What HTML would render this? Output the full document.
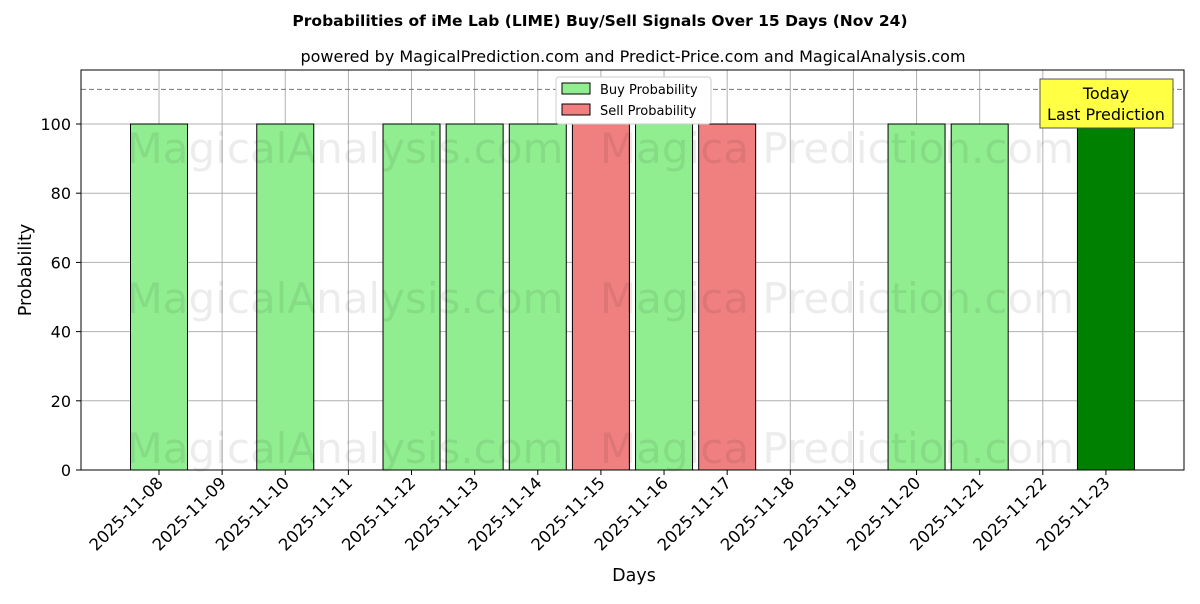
<!DOCTYPE html>
<html><head><meta charset="utf-8"><style>
body{margin:0;background:#fff;font-family:"DejaVu Sans","Liberation Sans",sans-serif}
</style></head><body>
<svg id="chart" width="1200" height="600" xmlns="http://www.w3.org/2000/svg" font-family="DejaVu Sans, Liberation Sans, sans-serif">
<text x="600" y="26" text-anchor="middle" font-size="15.5" font-weight="bold">Probabilities of iMe Lab (LIME) Buy/Sell Signals Over 15 Days (Nov 24)</text>
<text x="633" y="62" text-anchor="middle" font-size="16">powered by MagicalPrediction.com and Predict-Price.com and MagicalAnalysis.com</text>
<g id="grid"></g>
<g id="bars"></g>
<g id="wm" fill="#000" opacity="0.07" font-size="42">
<text x="345" y="163" text-anchor="middle">MagicalAnalysis.com</text><text x="837" y="163" text-anchor="middle">Magica Prediction.com</text>
<text x="345" y="313" text-anchor="middle">MagicalAnalysis.com</text><text x="837" y="313" text-anchor="middle">Magica Prediction.com</text>
<text x="345" y="463" text-anchor="middle">MagicalAnalysis.com</text><text x="837" y="463" text-anchor="middle">Magica Prediction.com</text>
</g>
<line x1="81" x2="1184" y1="89.4" y2="89.4" stroke="#777" stroke-dasharray="5,3"/>
<rect x="81" y="70" width="1103" height="400" fill="none" stroke="#000"/>
<g id="axes"></g>
<text x="634" y="581" text-anchor="middle" font-size="17.5">Days</text>
<text x="31" y="270" text-anchor="middle" font-size="17.5" transform="rotate(-90 31 270)">Probability</text>
<g>
<rect x="556" y="77" width="155" height="47" fill="#fff" stroke="#ccc" rx="3"/>
<rect x="562" y="83" width="28" height="11" fill="#90ee90" stroke="#000"/>
<text x="600" y="94" font-size="13">Buy Probability</text>
<rect x="562" y="104" width="28" height="11" fill="#f08080" stroke="#000"/>
<text x="600" y="115" font-size="13">Sell Probability</text>
</g>
<g>
<rect x="1040" y="79" width="133" height="49" fill="#ffff44" stroke="#555"/>
<text x="1106" y="99" text-anchor="middle" font-size="16">Today</text>
<text x="1106" y="120" text-anchor="middle" font-size="16">Last Prediction</text>
</g>
</svg>
<script>
const categories=["2025-11-08","2025-11-09","2025-11-10","2025-11-11","2025-11-12","2025-11-13","2025-11-14","2025-11-15","2025-11-16","2025-11-17","2025-11-18","2025-11-19","2025-11-20","2025-11-21","2025-11-22","2025-11-23"];
const buyValues=[100,0,100,0,100,100,100,0,100,0,0,0,100,100,0,100];
const sellValues=[0,0,0,0,0,0,0,100,0,100,0,0,0,0,0,0];
const yTicks=[0,20,40,60,80,100];
const NS="http://www.w3.org/2000/svg";
const x=i=>159+i*63.13, y=v=>470-v*3.46, bw=57;
function mk(t,a,p){const e=document.createElementNS(NS,t);for(const k in a)e.setAttribute(k,a[k]);p.appendChild(e);return e;}
const grid=document.getElementById('grid'),bars=document.getElementById('bars'),axes=document.getElementById('axes');
yTicks.forEach(v=>{
 const l=mk('line',{x1:81,x2:1184,y1:y(v),y2:y(v),stroke:'#b0b0b0'},grid);
 
 
 mk('line',{x1:76,x2:81,y1:y(v),y2:y(v),stroke:'#000'},axes);
 const t=mk('text',{x:71,y:y(v)+6,'text-anchor':'end','font-size':16},axes);t.textContent=v;
 
 
});
categories.forEach((c,i)=>{
 const l=mk('line',{x1:x(i),x2:x(i),y1:70,y2:470,stroke:'#b0b0b0'},grid);
 
 
 mk('line',{x1:x(i),x2:x(i),y1:470,y2:475,stroke:'#000'},axes);
 const t=mk('text',{x:x(i)+5,y:484,'text-anchor':'end','font-size':16.5,transform:`rotate(-45 ${x(i)+5} 484)`},axes);t.textContent=c;
 
 
 const last=i===categories.length-1;
 if(buyValues[i]>0){const r=mk('rect',{x:x(i)-bw/2,y:y(buyValues[i]),width:bw,height:y(0)-y(buyValues[i]),fill:last?'#008000':'#90ee90',stroke:'#000'},bars);
  
  }
 if(sellValues[i]>0){const r=mk('rect',{x:x(i)-bw/2,y:y(sellValues[i]),width:bw,height:y(0)-y(sellValues[i]),fill:'#f08080',stroke:'#000'},bars);
  
  }
});
</script>
</body></html>
